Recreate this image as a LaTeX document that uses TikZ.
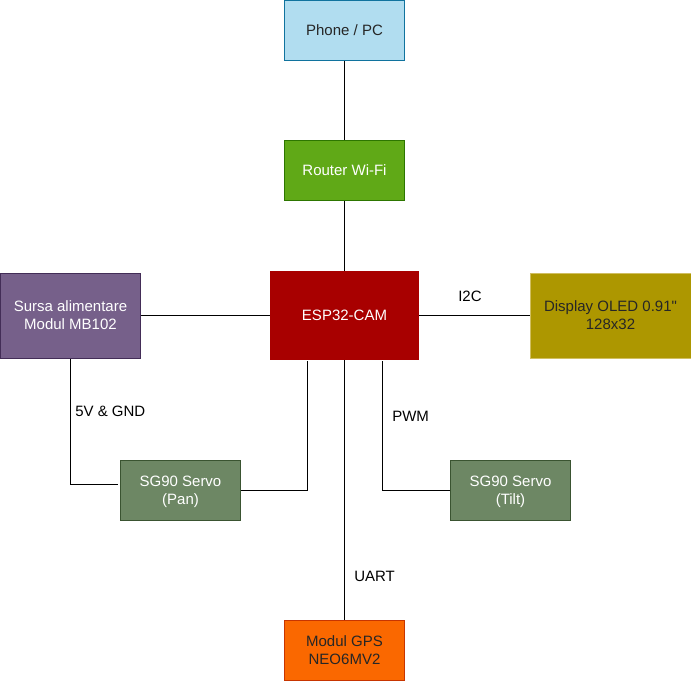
\documentclass[tikz,border=0pt]{standalone}
\usepackage{fontspec}
\setmainfont{Liberation Sans}
\newfontfamily\rawsans{Liberation Sans}
\definecolor{phonef}{HTML}{B1DDF0}\definecolor{phoned}{HTML}{10739E}
\definecolor{routerf}{HTML}{60A917}\definecolor{routerd}{HTML}{2D7600}
\definecolor{espf}{HTML}{A80000}
\definecolor{srcf}{HTML}{76608A}\definecolor{srcd}{HTML}{432D57}
\definecolor{dispf}{HTML}{AD9700}\definecolor{dispd}{HTML}{D0BE60}
\definecolor{servof}{HTML}{6D8764}\definecolor{servod}{HTML}{3A5431}
\definecolor{gpsf}{HTML}{FA6800}\definecolor{gpsd}{HTML}{C73500}
\tikzset{
  box/.style={rectangle,draw,line width=0.75pt,inner sep=0pt,align=center,text depth=-0.6pt,font=\fontsize{11.25pt}{13.5pt}\selectfont},
  smallbox/.style={box,minimum width=90pt,minimum height=45pt},
  wire/.style={draw=black,line width=0.75pt},
  lbl/.style={font=\fontsize{11.25pt}{13.5pt}\selectfont,inner sep=0pt,text=black}
}
\begin{document}
\begin{tikzpicture}[x=0.75pt,y=-0.75pt]
\useasboundingbox (0,0) rectangle (691,681);
\node[smallbox,fill=phonef,draw=phoned,text=black!85] (phone) at (344.5,30.5) {Phone / PC};
\node[smallbox,fill=routerf,draw=routerd,text=white] (router) at (344.5,170.5) {Router Wi-Fi};
\node[box,fill=espf,draw=espf,text=white,minimum width=111pt,minimum height=66pt] (esp) at (344.5,315.5) {ESP32-CAM};
\node[box,fill=srcf,draw=srcd,text=white,minimum width=105pt,minimum height=63.75pt] (src) at (70.5,315.5) {Sursa alimentare\\Modul MB102};
\node[box,fill=dispf,draw=dispd,text=black!85,minimum width=120.75pt,minimum height=63.75pt] (disp) at (610.5,315.5) {Display OLED 0.91{\rawsans"}\\128x32};
\node[smallbox,fill=servof,draw=servod,text=white] (pan) at (180.5,490.5) {SG90 Servo\\(Pan)};
\node[smallbox,fill=servof,draw=servod,text=white] (tilt) at (510.5,490.5) {SG90 Servo\\(Tilt)};
\node[smallbox,fill=gpsf,draw=gpsd,text=black!85] (gps) at (344.5,650.5) {Modul GPS\\NEO6MV2};
\coordinate (panin) at (118,484.5);
\coordinate (espa) at (307,361);
\coordinate (espb) at (382,361);
\draw[wire] (phone.south) -- (router.north);
\draw[wire] (router.south) -- (esp.north);
\draw[wire] (src.east) -- (esp.west);
\draw[wire] (esp.east) -- (disp.west);
\draw[wire] (esp.south) -- (gps.north);
\draw[wire] (src.south) |- (panin);
\draw[wire] (pan.east) -| (espa);
\draw[wire] (tilt.west) -| (espb);
\node[lbl,anchor=base west] (l5v) at (75,416) {5V \& GND};
\node[lbl,anchor=base west] (li2c) at (458,301) {I2C};
\node[lbl,anchor=base west] (lpwm) at (392,421) {PWM};
\node[lbl,anchor=base west] (luart) at (354,581) {UART};
\end{tikzpicture}
\end{document}
